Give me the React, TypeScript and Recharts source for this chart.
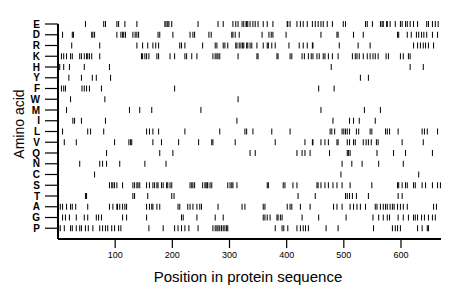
import { ScatterChart, Scatter, XAxis, YAxis } from "recharts";

// amino acids, top to bottom as on the y axis
const aminoAcids = ["E", "D", "R", "K", "H", "Y", "F", "W", "M", "I", "L", "V", "Q", "N", "C", "S", "T", "A", "G", "P"];

// positions of each residue in the sequence
const posE = [48, 80, 83, 103, 106, 117, 138, 187, 189, 192, 194, 199, 245, 280, 289, 306, 311, 315, 322, 325, 329, 330, 332, 336, 341, 345, 350, 359, 366, 376, 401, 402, 406, 418, 424, 429, 436, 445, 450, 455, 460, 464, 471, 480, 499, 503, 538, 541, 550, 564, 567, 569, 575, 576, 581, 590, 599, 602, 608, 611, 616, 622, 629, 645, 648, 655, 660, 665];
const posD = [8, 25, 27, 59, 61, 64, 103, 110, 113, 115, 118, 131, 135, 138, 141, 175, 178, 201, 231, 236, 239, 264, 268, 304, 306, 310, 317, 357, 369, 373, 376, 399, 460, 488, 490, 517, 534, 594, 596, 611, 618, 627, 631, 636, 640, 645, 655, 664];
const posR = [24, 73, 138, 148, 157, 166, 171, 176, 213, 216, 222, 253, 275, 278, 289, 292, 297, 311, 313, 317, 320, 323, 325, 330, 332, 336, 339, 348, 359, 366, 368, 374, 380, 404, 422, 429, 436, 445, 446, 492, 525, 546, 622, 629, 634, 639, 643, 648, 657];
const posK = [6, 10, 15, 22, 25, 38, 41, 46, 50, 52, 55, 59, 73, 146, 148, 152, 155, 159, 173, 176, 196, 204, 222, 225, 234, 243, 271, 275, 278, 280, 283, 315, 348, 350, 383, 385, 406, 409, 427, 431, 438, 443, 446, 453, 457, 464, 467, 473, 480, 490, 515, 520, 523, 527, 534, 541, 546, 551, 555, 560, 574, 578, 599, 604, 613, 616];
const posH = [3, 10, 20, 46, 90, 478, 616, 639];
const posY = [19, 41, 60, 67, 92, 529, 543];
const posF = [6, 10, 13, 42, 46, 50, 55, 76, 204, 456, 483];
const posW = [22, 82, 315];
const posM = [15, 125, 143, 164, 250, 460, 536, 564];
const posI = [26, 29, 41, 83, 313, 481, 510, 517, 527, 555];
const posL = [8, 52, 57, 80, 155, 160, 166, 176, 222, 283, 327, 330, 341, 374, 406, 476, 479, 484, 497, 500, 503, 506, 510, 522, 526, 546, 549, 573, 576, 580, 595, 637, 641, 646, 664];
const posV = [11, 32, 99, 124, 127, 129, 166, 181, 211, 246, 269, 271, 310, 380, 432, 445, 446, 460, 467, 473, 488, 490, 506, 510, 517, 520, 534, 539, 543, 548, 557, 560, 602, 639];
const posQ = [85, 178, 201, 336, 345, 418, 427, 432, 441, 475, 506, 508, 511, 558, 587, 608, 655];
const posN = [38, 73, 78, 85, 108, 152, 189, 497, 514, 532, 561, 604];
const posC = [64, 495, 631];
const posS = [90, 94, 96, 99, 103, 113, 131, 134, 138, 140, 143, 155, 160, 166, 169, 173, 175, 181, 184, 190, 192, 196, 199, 231, 234, 236, 239, 253, 257, 259, 261, 262, 266, 269, 297, 301, 304, 306, 313, 366, 368, 394, 397, 411, 418, 453, 455, 460, 467, 473, 481, 488, 497, 511, 549, 594, 596, 602, 608, 611, 622, 625, 637, 643, 655, 664, 669];
const posT = [48, 50, 131, 134, 157, 199, 203, 420, 450, 503, 506, 510, 515, 522, 543, 595, 602];
const posA = [4, 8, 15, 22, 25, 31, 52, 90, 96, 103, 104, 108, 113, 117, 120, 155, 160, 164, 166, 173, 178, 210, 213, 227, 231, 236, 243, 248, 251, 280, 322, 327, 359, 362, 401, 406, 409, 424, 441, 482, 488, 497, 511, 517, 523, 529, 538, 555, 558, 564, 569, 573, 576, 581, 585, 588, 594, 599, 604, 611, 657, 662];
const posG = [8, 13, 20, 32, 46, 52, 67, 71, 76, 113, 120, 155, 216, 219, 243, 275, 289, 359, 362, 366, 371, 383, 385, 389, 392, 427, 456, 504, 551, 561, 569, 576, 580, 595, 604, 613, 622, 625, 629, 636, 641, 648, 655, 660];
const posP = [1, 4, 11, 22, 25, 32, 38, 41, 48, 53, 61, 73, 78, 83, 87, 94, 99, 106, 110, 159, 184, 204, 210, 216, 222, 229, 245, 271, 275, 278, 280, 283, 286, 289, 292, 295, 297, 380, 392, 395, 402, 418, 424, 429, 433, 438, 469, 490, 552, 585, 590, 594, 599, 629, 637, 646, 648];

const positions = [posE, posD, posR, posK, posH, posY, posF, posW, posM, posI, posL, posV, posQ, posN, posC, posS, posT, posA, posG, posP];

const xTicks = [100, 200, 300, 400, 500, 600];
const yTicks = aminoAcids.map((_, i) => i + 1);

const marks = positions.flatMap((list, row) =>
    list.map((p) => ({ x: p, y: aminoAcids.length - row }))
);

const Mark = (props: any) => {
    const { cx, cy } = props;
    return <line x1={cx} x2={cx} y1={cy - 3} y2={cy + 3} stroke="#000" strokeWidth={1} />;
};

export default function App() {
    return (
        <div style={{ fontFamily: "'Liberation Sans', Arial, sans-serif" }}>
            <ScatterChart
                width={452}
                height={291}
                margin={{ top: 16, right: 19, bottom: 0, left: 0 }}
            >
                <XAxis
                    type="number"
                    dataKey="x"
                    domain={[0, 670]}
                    ticks={xTicks}
                    interval={0}
                    allowDataOverflow
                    height={60}
                    tickSize={9}
                    tickMargin={4}
                    axisLine={{ stroke: "#000", strokeWidth: 2 }}
                    tickLine={{ stroke: "#000", strokeWidth: 1.2 }}
                    tick={{ fill: "#000", fontSize: 9 }}
                />
                <YAxis
                    type="number"
                    dataKey="y"
                    domain={[0, 20]}
                    ticks={yTicks}
                    interval={0}
                    width={50}
                    tickSize={13}
                    tickMargin={5}
                    tickFormatter={(v: number) => aminoAcids[aminoAcids.length - v] ?? ""}
                    axisLine={{ stroke: "#000", strokeWidth: 2 }}
                    tickLine={{ stroke: "#000", strokeWidth: 1.2 }}
                    tick={{ fill: "#000", fontSize: 10, fontWeight: "bold" }}
                />
                <Scatter data={marks} shape={Mark} isAnimationActive={false} />
                <text x={240} y={274} textAnchor="middle" fontSize={15} fill="#000">
                    Position in protein sequence
                </text>
                <text
                    x={0}
                    y={0}
                    transform="translate(11, 116) rotate(-90)"
                    textAnchor="middle"
                    dominantBaseline="central"
                    fontSize={14}
                    fill="#000"
                >
                    Amino acid
                </text>
            </ScatterChart>
        </div>
    );
}
